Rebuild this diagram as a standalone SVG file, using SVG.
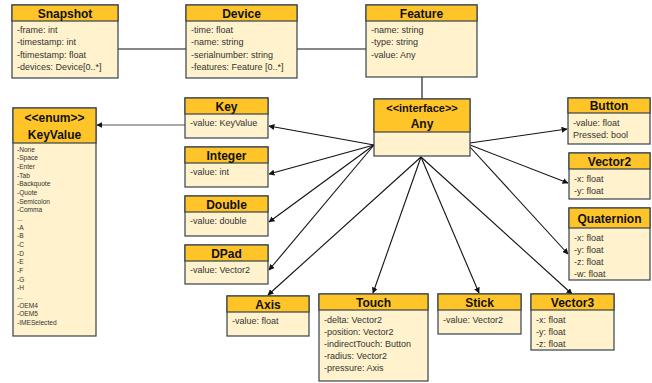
<svg xmlns="http://www.w3.org/2000/svg" width="652" height="383" viewBox="0 0 652 383">
<defs>
<style>
.hd{fill:#FFC428;stroke:#34424F;stroke-width:1.2}
.bd{fill:#FFF2CC;stroke:#34424F;stroke-width:1.2}
.t{font-family:"Liberation Sans",Arial,sans-serif;font-size:12px;font-weight:bold;fill:#111;text-anchor:middle}
.a{font-family:"Liberation Sans",Arial,sans-serif;font-size:9px;fill:#333}
.e{font-family:"Liberation Sans",Arial,sans-serif;font-size:6.6px;fill:#333}
.c{stroke:#111;stroke-width:1.1;fill:none}
.ca{stroke:#111;stroke-width:1.1;fill:none;marker-end:url(#ah)}
</style>
<marker id="ah" viewBox="0 0 10 10" refX="9" refY="5" markerWidth="6" markerHeight="6" markerUnits="userSpaceOnUse" orient="auto">
<path d="M0,0 L10,5 L0,10 z" fill="#111"/>
</marker>
</defs>
<rect width="652" height="383" fill="#fff"/>

<g id="connectors">
<line class="c" x1="118" y1="49" x2="186" y2="49"/>
<line class="c" x1="297" y1="49" x2="366" y2="49"/>
<line class="c" x1="422" y1="77" x2="422" y2="99"/>
<line class="ca" x1="185" y1="125" x2="97" y2="125" style="stroke:#555"/>
<line class="ca" x1="374" y1="145" x2="269" y2="126"/>
<line class="ca" x1="374" y1="145" x2="269" y2="174"/>
<line class="ca" x1="374" y1="145" x2="269" y2="222"/>
<line class="ca" x1="374" y1="145" x2="269" y2="270"/>
<line class="ca" x1="421" y1="157" x2="268" y2="295"/>
<line class="ca" x1="421" y1="157" x2="373" y2="293"/>
<line class="ca" x1="421" y1="157" x2="479" y2="293"/>
<line class="ca" x1="421" y1="157" x2="572" y2="294"/>
<line class="ca" x1="470" y1="143" x2="567" y2="129"/>
<line class="ca" x1="470" y1="145" x2="568" y2="183"/>
<line class="ca" x1="470" y1="147" x2="568" y2="254"/>
</g>

<g id="snapshot">
<rect class="bd" x="12" y="5" width="106" height="73"/>
<rect class="hd" x="12" y="5" width="106" height="16"/>
<text class="t" x="65" y="17.5">Snapshot</text>
<text class="a" x="17" y="33">-frame: int</text>
<text class="a" x="17" y="45">-timestamp: int</text>
<text class="a" x="17" y="57.5">-ftimestamp: float</text>
<text class="a" x="17" y="70">-devices: Device[0..*]</text>
</g>

<g id="device">
<rect class="bd" x="186" y="5" width="111" height="73"/>
<rect class="hd" x="186" y="5" width="111" height="16"/>
<text class="t" x="241.5" y="17.5">Device</text>
<text class="a" x="191" y="33">-time: float</text>
<text class="a" x="191" y="45">-name: string</text>
<text class="a" x="191" y="57.5">-serialnumber: string</text>
<text class="a" x="191" y="70">-features: Feature [0..*]</text>
</g>

<g id="feature">
<rect class="bd" x="366" y="5" width="111" height="72"/>
<rect class="hd" x="366" y="5" width="111" height="16"/>
<text class="t" x="421.5" y="17.5">Feature</text>
<text class="a" x="371" y="33">-name: string</text>
<text class="a" x="371" y="45">-type: string</text>
<text class="a" x="371" y="57.5">-value: Any</text>
</g>

<g id="any">
<rect class="bd" x="374" y="99" width="96" height="57"/>
<rect class="hd" x="374" y="99" width="96" height="33"/>
<text class="t" x="422" y="111.5" style="font-size:11px">&lt;&lt;interface&gt;&gt;</text>
<text class="t" x="422" y="128">Any</text>
</g>

<g id="keyvalue">
<rect class="bd" x="13" y="108" width="83" height="228"/>
<rect class="hd" x="13" y="108" width="83" height="35"/>
<text class="t" x="54.5" y="122">&lt;&lt;enum&gt;&gt;</text>
<text class="t" x="54.5" y="138.5">KeyValue</text>
<text class="e" x="17" y="151.5">-None</text>
<text class="e" x="17" y="160.2">-Space</text>
<text class="e" x="17" y="168.9">-Enter</text>
<text class="e" x="17" y="177.5">-Tab</text>
<text class="e" x="17" y="186.2">-Backquote</text>
<text class="e" x="17" y="194.9">-Quote</text>
<text class="e" x="17" y="203.5">-Semicolon</text>
<text class="e" x="17" y="212.2">-Comma</text>
<text class="e" x="17" y="220.9">...</text>
<text class="e" x="17" y="229.5">-A</text>
<text class="e" x="17" y="238.2">-B</text>
<text class="e" x="17" y="246.9">-C</text>
<text class="e" x="17" y="255.5">-D</text>
<text class="e" x="17" y="264.2">-E</text>
<text class="e" x="17" y="272.9">-F</text>
<text class="e" x="17" y="281.5">-G</text>
<text class="e" x="17" y="290.2">-H</text>
<text class="e" x="17" y="298.9">...</text>
<text class="e" x="17" y="307.5">-OEM4</text>
<text class="e" x="17" y="316.2">-OEM5</text>
<text class="e" x="17" y="324.9">-IMESelected</text>
</g>

<g id="key">
<rect class="bd" x="185" y="98" width="83" height="40"/>
<rect class="hd" x="185" y="98" width="83" height="16"/>
<text class="t" x="226.5" y="110.5">Key</text>
<text class="a" x="190" y="126">-value: KeyValue</text>
</g>

<g id="integer">
<rect class="bd" x="185" y="147" width="83" height="40"/>
<rect class="hd" x="185" y="147" width="83" height="16"/>
<text class="t" x="226.5" y="159.5">Integer</text>
<text class="a" x="190" y="174.5">-value: int</text>
</g>

<g id="double">
<rect class="bd" x="185" y="196" width="83" height="40"/>
<rect class="hd" x="185" y="196" width="83" height="16"/>
<text class="t" x="226.5" y="208.5">Double</text>
<text class="a" x="190" y="224">-value: double</text>
</g>

<g id="dpad">
<rect class="bd" x="185" y="245" width="83" height="39"/>
<rect class="hd" x="185" y="245" width="83" height="16"/>
<text class="t" x="226.5" y="257.5">DPad</text>
<text class="a" x="190" y="273">-value: Vector2</text>
</g>

<g id="axis">
<rect class="bd" x="227" y="296" width="82" height="40"/>
<rect class="hd" x="227" y="296" width="82" height="16"/>
<text class="t" x="268" y="308.5">Axis</text>
<text class="a" x="232" y="324">-value: float</text>
</g>

<g id="touch">
<rect class="bd" x="319" y="294" width="109" height="87"/>
<rect class="hd" x="319" y="294" width="109" height="16"/>
<text class="t" x="373.5" y="306.5">Touch</text>
<text class="a" x="324" y="323">-delta: Vector2</text>
<text class="a" x="324" y="335">-position: Vector2</text>
<text class="a" x="324" y="347">-indirectTouch: Button</text>
<text class="a" x="324" y="359">-radius: Vector2</text>
<text class="a" x="324" y="371">-pressure: Axis</text>
</g>

<g id="stick">
<rect class="bd" x="438" y="294" width="83" height="40"/>
<rect class="hd" x="438" y="294" width="83" height="16"/>
<text class="t" x="479.5" y="306.5">Stick</text>
<text class="a" x="443" y="323">-value: Vector2</text>
</g>

<g id="vector3">
<rect class="bd" x="531" y="294" width="83" height="56"/>
<rect class="hd" x="531" y="294" width="83" height="16"/>
<text class="t" x="572.5" y="306.5">Vector3</text>
<text class="a" x="536" y="323">-x: float</text>
<text class="a" x="536" y="335">-y: float</text>
<text class="a" x="536" y="347">-z: float</text>
</g>

<g id="button">
<rect class="bd" x="568" y="98" width="82" height="46"/>
<rect class="hd" x="568" y="98" width="82" height="15"/>
<text class="t" x="609" y="110">Button</text>
<text class="a" x="573" y="126">-value: float</text>
<text class="a" x="573" y="138">Pressed: bool</text>
</g>

<g id="vector2">
<rect class="bd" x="569" y="153" width="81" height="46"/>
<rect class="hd" x="569" y="153" width="81" height="16"/>
<text class="t" x="609.5" y="165.5">Vector2</text>
<text class="a" x="574" y="182">-x: float</text>
<text class="a" x="574" y="194">-y: float</text>
</g>

<g id="quaternion">
<rect class="bd" x="569" y="208" width="81" height="72"/>
<rect class="hd" x="569" y="208" width="81" height="20"/>
<text class="t" x="609.5" y="222.5">Quaternion</text>
<text class="a" x="574" y="241">-x: float</text>
<text class="a" x="574" y="253">-y: float</text>
<text class="a" x="574" y="265">-z: float</text>
<text class="a" x="574" y="276.5">-w: float</text>
</g>
</svg>
